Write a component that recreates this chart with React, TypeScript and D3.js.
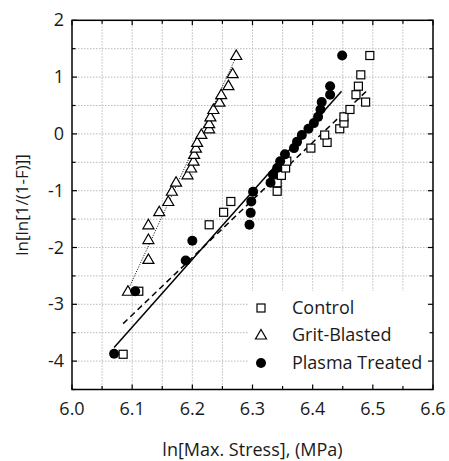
import * as d3 from "d3";

// Weibull plot values: [ln stress, ln ln 1/(1-F)]
const controlPts: [number, number][] = [
  [6.085, -3.88], [6.111, -2.77], [6.228, -1.6], [6.252, -1.38], [6.264, -1.19],
  [6.341, -1.01], [6.341, -0.86], [6.348, -0.73], [6.355, -0.6], [6.357, -0.48],
  [6.397, -0.25], [6.424, -0.15], [6.42, -0.02], [6.445, 0.09], [6.452, 0.19],
  [6.452, 0.3], [6.462, 0.43], [6.488, 0.56], [6.472, 0.69], [6.476, 0.84],
  [6.48, 1.04], [6.495, 1.38],
];
const gritPts: [number, number][] = [
  [6.093, -2.77], [6.127, -2.21], [6.127, -1.86], [6.127, -1.6], [6.145, -1.37],
  [6.16, -1.19], [6.166, -1.01], [6.173, -0.85], [6.192, -0.72], [6.198, -0.6],
  [6.202, -0.48], [6.203, -0.36], [6.206, -0.25], [6.208, -0.15], [6.215, -0.01],
  [6.228, 0.09], [6.228, 0.18], [6.23, 0.3], [6.235, 0.43], [6.245, 0.56],
  [6.248, 0.69], [6.26, 0.85], [6.267, 1.06], [6.273, 1.38],
];
const plasmaPts: [number, number][] = [
  [6.07, -3.87], [6.105, -2.77], [6.189, -2.23], [6.2, -1.88], [6.295, -1.6],
  [6.297, -1.39], [6.298, -1.19], [6.301, -1.02], [6.33, -0.86], [6.334, -0.72],
  [6.341, -0.6], [6.346, -0.48], [6.354, -0.36], [6.369, -0.25], [6.374, -0.14],
  [6.382, -0.02], [6.393, 0.09], [6.402, 0.19], [6.409, 0.3], [6.413, 0.43],
  [6.415, 0.56], [6.429, 0.69], [6.429, 0.84], [6.449, 1.38],
];

// fitted lines, end points in data units
const controlFit: [number, number][] = [[6.085, -3.34], [6.491, 0.77]];
const gritFit: [number, number][] = [[6.093, -2.75], [6.272, 1.34]];
const plasmaFit: [number, number][] = [[6.07, -3.76], [6.448, 0.75]];

const xTicks = [6.0, 6.1, 6.2, 6.3, 6.4, 6.5, 6.6];
const yTicks = [2, 1, 0, -1, -2, -3, -4];
const legendNames = ["Control", "Grit-Blasted", "Plasma Treated"];

const font = "'Open Sans', sans-serif";

export default function App() {
  const W = 449, H = 461;
  const x = d3.scaleLinear().domain([6.0, 6.6]).range([72, 433]);
  const y = d3.scaleLinear().domain([-4.5, 2]).range([389.5, 20.3]);
  const line = d3.line<[number, number]>().x(d => x(d[0])).y(d => y(d[1]));

  const xMinor = d3.range(0, 13).map(i => 6 + i * 0.05);
  const yMinor = d3.range(0, 14).map(i => -4.5 + i * 0.5);

  const [x0, x1] = x.range();
  const [y0, y1] = y.range();

  const tri = (cx: number, cy: number) =>
    `M${cx},${cy - 5.5}L${cx + 5.5},${cy + 4}L${cx - 5.5},${cy + 4}Z`;

  const legX = 261, legY = [308, 335, 363];

  return (
    <svg width={W} height={H} style={{ position: "absolute", left: 0, top: 0, background: "#fff" }}>
      {/* grid */}
      <g stroke="#bbb" strokeWidth={1} strokeDasharray="1.5,1.5">
        {xMinor.slice(1, -1).map((v, i) => (
          <line key={"gx" + i} x1={x(v)} x2={x(v)} y1={y1} y2={y0} />
        ))}
        {yMinor.slice(1, -1).map((v, i) => (
          <line key={"gy" + i} x1={x0} x2={x1} y1={y(v)} y2={y(v)} />
        ))}
      </g>
      {/* legend background */}
      <rect x={249} y={291} width={x1 - 249} height={y0 - 291} fill="#fff" />

      {/* ticks on all sides */}
      <g stroke="#000" strokeWidth={1.2}>
        {xMinor.map((v, i) => {
          const len = i % 2 === 0 ? 5 : 3.5;
          return (
            <g key={"tx" + i}>
              <line x1={x(v)} x2={x(v)} y1={y0} y2={y0 - len} />
              <line x1={x(v)} x2={x(v)} y1={y1} y2={y1 + len} />
            </g>
          );
        })}
        {yMinor.map((v, i) => {
          const len = i % 2 === 1 ? 5 : 3.5;
          return (
            <g key={"ty" + i}>
              <line x1={x0} x2={x0 + len} y1={y(v)} y2={y(v)} />
              <line x1={x1} x2={x1 - len} y1={y(v)} y2={y(v)} />
            </g>
          );
        })}
      </g>

      {/* fit lines */}
      <path d={line(plasmaFit) || ""} stroke="#000" strokeWidth={1.5} fill="none" />
      <path d={line(controlFit) || ""} stroke="#000" strokeWidth={1.5} strokeDasharray="6,4" fill="none" />
      <path d={line(gritFit) || ""} stroke="#000" strokeWidth={1} strokeDasharray="1,1.5" fill="none" />

      {/* points */}
      {controlPts.map((d, i) => (
        <rect key={"c" + i} x={x(d[0]) - 4} y={y(d[1]) - 4} width={8} height={8}
          fill="#fff" stroke="#000" strokeWidth={1.2} />
      ))}
      {gritPts.map((d, i) => (
        <path key={"g" + i} d={tri(x(d[0]), y(d[1]))} fill="#fff" stroke="#000" strokeWidth={1.2} />
      ))}
      {plasmaPts.map((d, i) => (
        <circle key={"p" + i} cx={x(d[0])} cy={y(d[1])} r={5} fill="#000" />
      ))}

      {/* frame */}
      <rect x={x0} y={y1} width={x1 - x0} height={y0 - y1} fill="none" stroke="#000" strokeWidth={1.5} />

      {/* tick labels */}
      <g fontFamily={font} fontSize={18} fill="#1a1a1a">
        {xTicks.map(v => (
          <text key={"xl" + v} x={x(v)} y={415} textAnchor="middle">{v.toFixed(1)}</text>
        ))}
        {yTicks.map(v => (
          <text key={"yl" + v} x={64} y={y(v) + 6} textAnchor="end">{v}</text>
        ))}
      </g>

      {/* axis titles */}
      <text x={(x0 + x1) / 2} y={456} textAnchor="middle" fontFamily={font} fontSize={18} fill="#1a1a1a">
        ln[Max. Stress], (MPa)
      </text>
      <text transform={`translate(28,${(y0 + y1) / 2}) rotate(-90)`} textAnchor="middle"
        fontFamily={font} fontSize={17} fill="#1a1a1a">
        ln[ln[1/(1-F)]]
      </text>

      {/* legend */}
      <rect x={legX - 4} y={legY[0] - 4} width={8} height={8} fill="#fff" stroke="#000" strokeWidth={1.2} />
      <path d={tri(legX, legY[1])} fill="#fff" stroke="#000" strokeWidth={1.2} />
      <circle cx={legX} cy={legY[2]} r={5} fill="#000" />
      <g fontFamily={font} fontSize={18} fill="#1a1a1a">
        {legendNames.map((n, i) => (
          <text key={n} x={292} y={legY[i] + 6}>{n}</text>
        ))}
      </g>
    </svg>
  );
}
